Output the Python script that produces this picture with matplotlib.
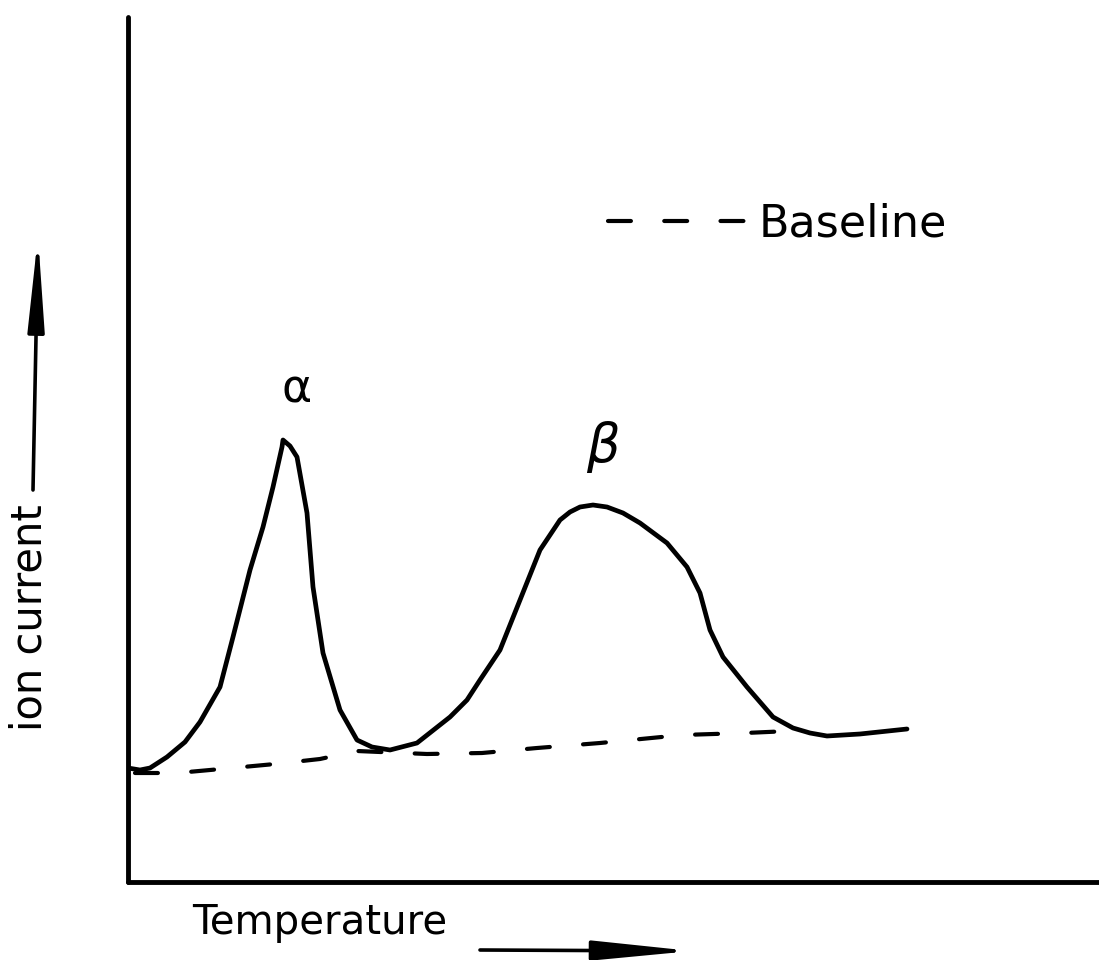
import matplotlib
matplotlib.use("Agg")
import matplotlib.pyplot as plt

# ---- data (arbitrary units) ----
temperature = [0, 12, 22, 39, 57, 72, 92, 105, 122, 135, 145, 154, 155, 162,
               169, 179, 185, 195, 212, 229, 244, 262, 289, 322, 339, 352,
               372, 392, 412, 432, 442, 452, 465, 479, 495, 512, 539, 559,
               572, 582, 595, 619, 645, 665, 682, 699, 732, 779]
ion_current = [114, 112, 114, 125, 140, 160, 195, 245, 312, 355, 395, 435,
               442, 436, 425, 369, 295, 229, 172, 142, 135, 132, 139, 165,
               182, 202, 232, 282, 332, 362, 370, 375, 377, 375, 369, 359,
               339, 315, 289, 252, 225, 195, 165, 154, 149, 146, 148, 153]

baseline_temperature = [7, 30, 60, 104, 147, 192, 229, 252, 299, 354, 409,
                        472, 554, 617, 662]
baseline_current = [109, 109, 110, 114, 118, 123, 131, 130, 128, 129, 134,
                    139, 147, 149, 151]

peak_labels = ["α", "β"]
peak_label_temperature = [169, 475]
peak_label_current = [492, 435]

W, H = 1099, 960
fig = plt.figure(figsize=(W / 100, H / 100), dpi=100)
ax = fig.add_axes([128 / W, (H - 882) / H, (W - 128) / W, (882 - 17) / H])
ax.set_xlim(0, 971)
ax.set_ylim(0, 865)

ax.plot(temperature, ion_current, color="black", lw=3.4,
        solid_capstyle="round", solid_joinstyle="round")
ax.plot(baseline_temperature, baseline_current, color="black", lw=3.0,
        linestyle=(0, (5.5, 8)), dash_capstyle="round", label="Baseline")

ax.text(peak_label_temperature[0], peak_label_current[0], peak_labels[0],
        fontsize=33, ha="center", va="center")
ax.text(peak_label_temperature[1], peak_label_current[1], peak_labels[1],
        fontsize=38, ha="center", va="center", style="italic")

for s in ["top", "right"]:
    ax.spines[s].set_visible(False)
for s in ["left", "bottom"]:
    ax.spines[s].set_linewidth(3.5)
    ax.spines[s].set_capstyle("round")
ax.set_xticks([])
ax.set_yticks([])

leg = ax.legend(loc="center left", bbox_to_anchor=(608 / W, 1 - 224 / H),
                bbox_transform=fig.transFigure, frameon=False, fontsize=32,
                handlelength=3.1, handletextpad=0.3, borderpad=0,
                borderaxespad=0)

# axis titles
fig.text(320 / W, 1 - 923 / H, "Temperature", fontsize=29,
         ha="center", va="center")
fig.text(30 / W, 1 - 618 / H, "ion current", fontsize=30, rotation=90,
         ha="center", va="center")

# direction arrows
ax.annotate("", xy=(38, H - 236), xytext=(33, H - 490),
            xycoords="figure pixels", textcoords="figure pixels",
            arrowprops=dict(arrowstyle="-|>,head_length=5.6,head_width=0.5",
                            mutation_scale=10, lw=2.6, color="black",
                            shrinkA=0, shrinkB=0))
ax.annotate("", xy=(692, H - 951), xytext=(480, H - 950),
            xycoords="figure pixels", textcoords="figure pixels",
            arrowprops=dict(arrowstyle="-|>,head_length=6.0,head_width=0.6",
                            mutation_scale=10, lw=2.6, color="black",
                            shrinkA=0, shrinkB=0))

fig.savefig("out.png", dpi=100, facecolor="white")
